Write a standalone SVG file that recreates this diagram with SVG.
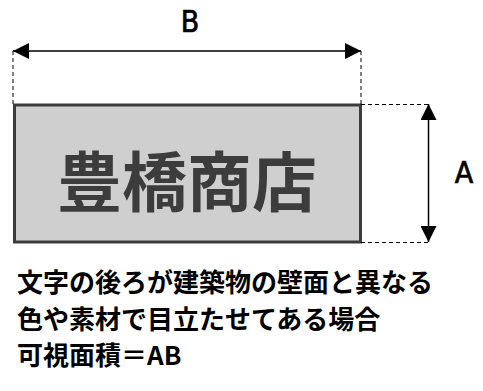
<svg xmlns="http://www.w3.org/2000/svg" width="483" height="391" viewBox="0 0 483 391">
<style>
.dash{stroke:#000;stroke-width:1;stroke-dasharray:4,3;fill:none}
.dim{stroke:#000;stroke-width:1.5;fill:none}
.lbl{font-family:"DejaVu Sans Condensed","Noto Sans CJK JP",sans-serif;font-size:30px;fill:#000;stroke:#000;stroke-width:0.7}
.cap{font-family:"Noto Sans CJK JP",sans-serif;font-weight:bold;font-size:26px;fill:#000}
</style>
<defs>
<marker id="ah" viewBox="0 0 10 10" refX="10" refY="5" markerWidth="16" markerHeight="16" markerUnits="userSpaceOnUse" orient="auto-start-reverse">
<path d="M0,0 L10,5 L0,10 Z" fill="#000"/>
</marker>
</defs>
<g id="sign">
<rect x="14.5" y="105" width="346" height="137" fill="#d0cfd0" stroke="#3c3c3c" stroke-width="3"/>
<text x="187" y="206" text-anchor="middle" font-family="'Noto Sans CJK JP',sans-serif" font-weight="bold" font-size="65" fill="#3c3c3c">豊橋商店</text>
</g>
<g id="connectors">
<line class="dash" x1="13" y1="51" x2="13" y2="104"/>
<line class="dash" x1="361" y1="51" x2="361" y2="104"/>
<line class="dash" x1="361" y1="104.5" x2="429" y2="104.5"/>
<line class="dash" x1="361" y1="242.5" x2="429" y2="242.5"/>
<line class="dim" x1="13" y1="51" x2="361" y2="51" marker-start="url(#ah)" marker-end="url(#ah)"/>
<line class="dim" x1="428.5" y1="104" x2="428.5" y2="242" marker-start="url(#ah)" marker-end="url(#ah)"/>
</g>
<g id="label-B"><text class="lbl" x="190" y="32" text-anchor="middle">B</text></g>
<g id="label-A"><text class="lbl" x="464" y="183" text-anchor="middle">A</text></g>
<g id="caption">
<text class="cap" x="17" y="292">文字の後ろが建築物の壁面と異なる</text>
<text class="cap" x="17" y="329">色や素材で目立たせてある場合</text>
<text class="cap" x="17" y="365">可視面積＝AB</text>
</g>
</svg>
